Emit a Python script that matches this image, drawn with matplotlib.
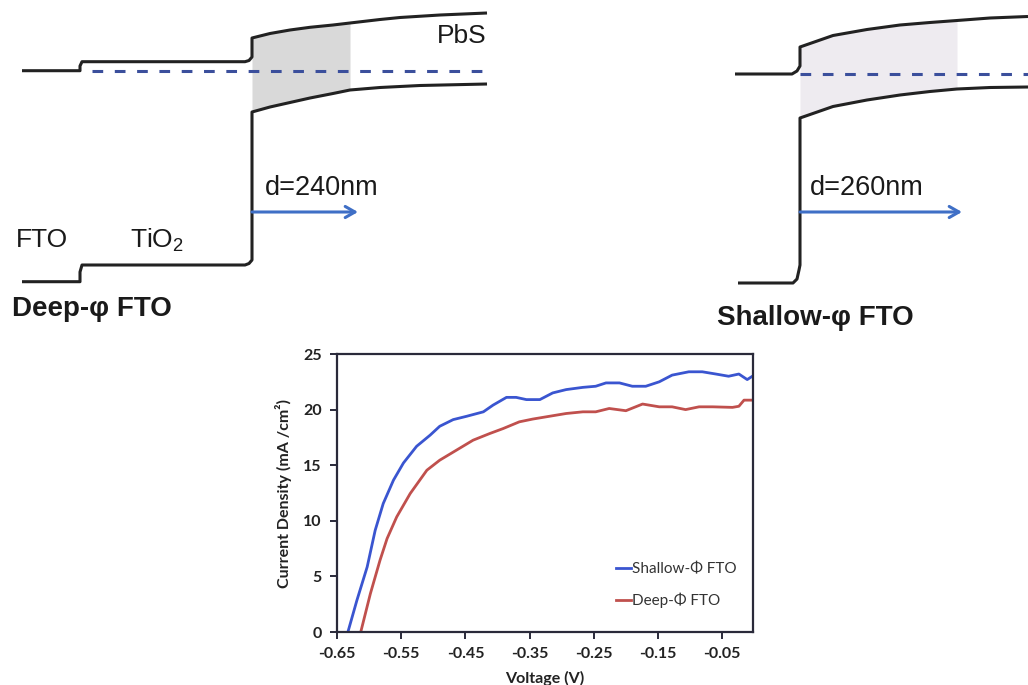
import matplotlib
matplotlib.use("Agg")
import matplotlib.pyplot as plt

plt.rcParams['font.family'] = ['Lato', 'DejaVu Sans']
plt.rcParams['mathtext.fontset'] = 'custom'
plt.rcParams['mathtext.rm'] = 'Liberation Sans'

# ---------------- J-V data ----------------
shallow_v = [-0.633, -0.619, -0.603, -0.5905, -0.578, -0.562, -0.5465, -0.526, -0.505, -0.490,
             -0.469, -0.448, -0.422, -0.407, -0.386, -0.371, -0.355, -0.334, -0.314, -0.293,
             -0.267, -0.247, -0.231, -0.210, -0.190, -0.169, -0.148, -0.128, -0.102, -0.081,
             -0.060, -0.040, -0.024, -0.011, -0.003]
shallow_j = [0.0, 2.85, 5.85, 9.15, 11.55, 13.66, 15.2, 16.7, 17.7, 18.5,
             19.1, 19.4, 19.8, 20.4, 21.1, 21.1, 20.9, 20.9, 21.5, 21.8,
             22.0, 22.1, 22.4, 22.4, 22.1, 22.1, 22.5, 23.1, 23.4, 23.4,
             23.2, 23.0, 23.2, 22.7, 23.0]
deep_v = [-0.613, -0.598, -0.583, -0.572, -0.557, -0.536, -0.510, -0.490, -0.464, -0.438,
          -0.412, -0.391, -0.366, -0.345, -0.319, -0.293, -0.267, -0.247, -0.226, -0.200,
          -0.174, -0.148, -0.128, -0.107, -0.086, -0.065, -0.034, -0.024, -0.016, -0.003]
deep_j = [0.0, 3.45, 6.45, 8.4, 10.35, 12.45, 14.55, 15.45, 16.35, 17.25,
          17.85, 18.3, 18.9, 19.15, 19.4, 19.65, 19.8, 19.8, 20.1, 19.9,
          20.5, 20.25, 20.25, 20.0, 20.25, 20.25, 20.2, 20.3, 20.85, 20.85]
x_ticks = [-0.65, -0.55, -0.45, -0.35, -0.25, -0.15, -0.05]
x_tick_labels = ['-0.65', '-0.55', '-0.45', '-0.35', '-0.25', '-0.15', '-0.05']
y_ticks = [0, 5, 10, 15, 20, 25]
series_labels = ['Shallow-Φ FTO', 'Deep-Φ FTO']

# ---------------- band diagram schematic (pixel space) ----------------
deep_top_x = [22, 80, 80, 82, 245, 249, 252, 252, 270, 290, 310, 333, 350, 380, 400, 440, 487]
deep_top_y = [70.7, 70.7, 66, 61.7, 61.7, 60.5, 57, 38, 33.5, 30, 27.3, 25, 23, 19.5, 17.5, 15, 13]
deep_bot_x = [22, 80, 80, 82, 245, 249, 252, 252, 270, 290, 310, 333, 350, 380, 420, 487]
deep_bot_y = [281.7, 281.7, 272, 265, 265, 263.5, 260, 112, 107, 102.5, 98, 93.5, 90, 87.5, 85.5, 84]
deep_shade_x = [252, 270, 290, 310, 333, 350]
deep_shade_top = [38, 33.5, 30, 27.3, 25, 23]
deep_shade_bot = [112, 107, 102.5, 98, 93.5, 90]
deep_fermi = ([92, 487], [70.7, 70.7])
deep_arrow = ((252, 212), (358, 212))

sh_top_x = [735, 792, 797, 800, 800, 833, 867, 900, 930, 957, 990, 1028]
sh_top_y = [74, 74, 71, 66, 47, 35.5, 29.5, 25, 22.5, 20.5, 18, 16.5]
sh_bot_x = [738, 793, 797, 799, 800, 800, 833, 867, 900, 930, 957, 990, 1028]
sh_bot_y = [283, 283, 279, 270, 265, 118, 106.5, 100, 95, 91.5, 89, 87.5, 87]
sh_shade_x = [800, 833, 867, 900, 930, 957]
sh_shade_top = [47, 35.5, 29.5, 25, 22.5, 20.5]
sh_shade_bot = [118, 106.5, 100, 95, 91.5, 89]
sh_fermi = ([800, 1028], [73.5, 73.5])
sh_arrow = ((800, 212), (962, 212))

W, H = 1028, 685
fig = plt.figure(figsize=(W / 100, H / 100), dpi=100)

# overlay for schematic
ov = fig.add_axes([0, 0, 1, 1], zorder=0)
ov.set_xlim(0, W)
ov.set_ylim(H, 0)
ov.axis('off')

line_kw = dict(color='#222222', lw=2.2, solid_joinstyle='round', solid_capstyle='butt')
dash_kw = dict(color='#3b4f9c', lw=2.2, dashes=(3.5, 3.8))
arrow_col = '#3f6fc6'

ov.fill_between(deep_shade_x, deep_shade_top, deep_shade_bot, color='#d9d9d9', lw=0)
ov.fill_between(sh_shade_x, sh_shade_top, sh_shade_bot, color='#eeebf0', lw=0)
ov.plot(deep_top_x, deep_top_y, **line_kw)
ov.plot(deep_bot_x, deep_bot_y, **line_kw)
ov.plot(sh_top_x, sh_top_y, **line_kw)
ov.plot(sh_bot_x, sh_bot_y, **line_kw)
ov.plot(*deep_fermi, **dash_kw)
ov.plot(*sh_fermi, **dash_kw)
for start, end in (deep_arrow, sh_arrow):
    ov.annotate('', xy=end, xytext=start,
                arrowprops=dict(arrowstyle='->,head_length=0.7,head_width=0.4',
                                color=arrow_col, lw=2.2, shrinkA=0, shrinkB=0))

tkw = dict(family=['Liberation Sans', 'DejaVu Sans'], color='#1a1a1a', va='baseline', ha='left')
ov.text(437, 43, 'PbS', fontsize=19, **tkw)
ov.text(265, 195, 'd=240nm', fontsize=19.5, **tkw)
ov.text(16, 247, 'FTO', fontsize=19, **tkw)
ov.text(130, 247, r'TiO$_\mathregular{2}$', fontsize=19, **tkw)
ov.text(12, 316, 'Deep-φ FTO', fontsize=20, fontweight='bold', **tkw)
ov.text(810, 195, 'd=260nm', fontsize=19.5, **tkw)
ov.text(717, 325, 'Shallow-φ FTO', fontsize=20, fontweight='bold', **tkw)

# ---------------- J-V chart ----------------
ax = fig.add_axes([337 / W, 1 - 632 / H, (753 - 337) / W, (632 - 354) / H], zorder=2)
ax.plot(shallow_v, shallow_j, color='#3a55d0', lw=2.0, label=series_labels[0])
ax.plot(deep_v, deep_j, color='#c0504d', lw=2.0, label=series_labels[1])
ax.set_xlim(-0.65, -0.002)
ax.set_ylim(0, 25)
ax.set_xticks(x_ticks)
ax.set_xticklabels(x_tick_labels)
ax.set_yticks(y_ticks)
for s in ax.spines.values():
    s.set_color('#2a2a3a')
    s.set_linewidth(1.6)
ax.tick_params(direction='out', length=5, width=1.4, colors='#2a2a3a', labelsize=11.5, pad=6)
for lab in ax.get_xticklabels() + ax.get_yticklabels():
    lab.set_fontweight('bold')
    lab.set_color('#222222')
ax.set_xlabel('Voltage (V)', fontsize=11.5, fontweight='bold', color='#222222', labelpad=7)
ax.set_ylabel('Current Density (mA /cm²)', fontsize=11.5, fontweight='bold', color='#222222', labelpad=8)
ax.legend(loc='upper left', bbox_to_anchor=(0.655, 0.272), frameon=False, fontsize=11,
          handlelength=1.0, handletextpad=0.1, labelspacing=1.05, borderaxespad=0,
          labelcolor='#333333')

fig.savefig('out.png', dpi=100)
